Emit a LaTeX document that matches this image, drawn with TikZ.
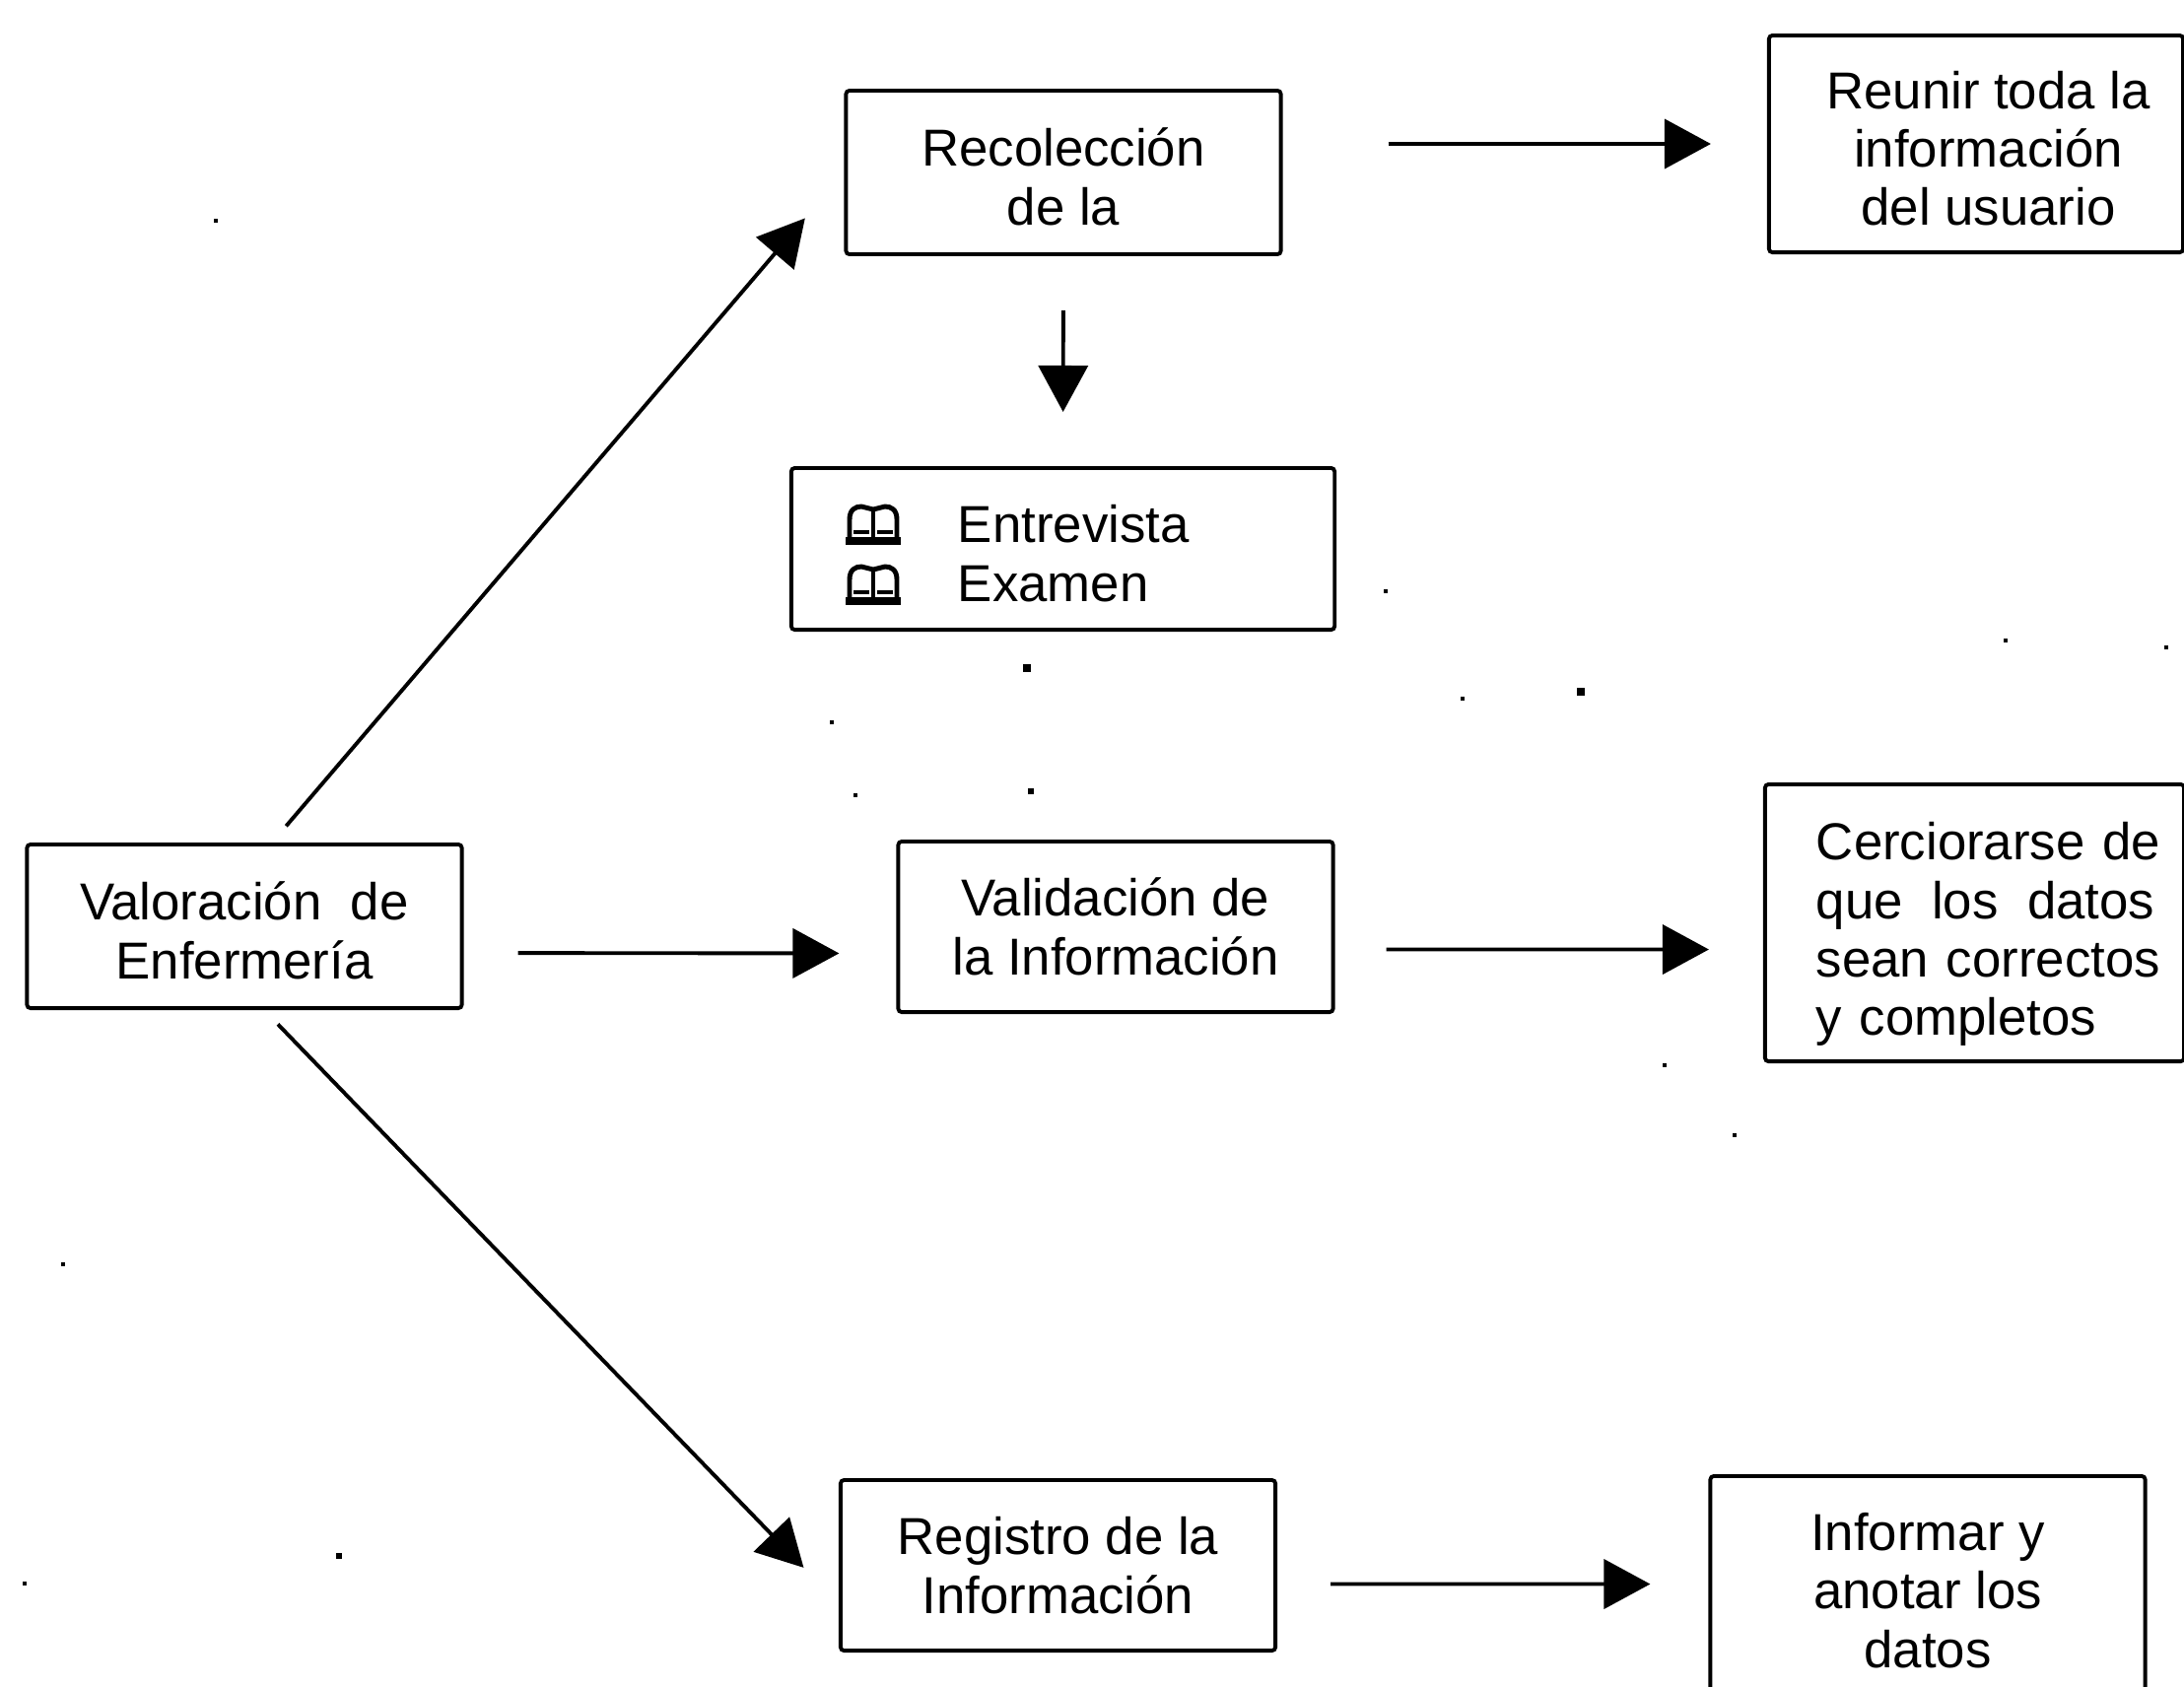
\documentclass[tikz,border=0pt]{standalone}
\usepackage{fontspec}
\setmainfont{Liberation Sans}
\usetikzlibrary{arrows.meta}

\newcommand{\bajada}[1][13.5pt]{\rule{0pt}{#1}}

\tikzset{
    box/.style={draw, line width=1.1pt, rounded corners=1pt, align=center, inner sep=0pt,
        font=\fontsize{15}{16.9}\selectfont},
    mainbox/.style={box, minimum width=4.41cm, minimum height=1.66cm},
    arrow/.style={->, line width=1.1pt}
}

\begin{document}
\begin{tikzpicture}[>={Triangle[length=0.47cm, width=0.5cm]}, x=0.01cm, y=-0.01cm]
            \useasboundingbox (0, 0) rectangle (2216, 1711);

            \newcommand{\bookicon}[2]{
                \draw[line width=1.4pt] (#1+4, #2+34) -- (#1+4, #2+14) .. controls (#1+4, #2+4) and (#1+10, #2+1) .. (#1+16, #2+1) -- (#1+28, #2+4) -- (#1+40, #2+1) .. controls (#1+46, #2+1) and (#1+52, #2+4) .. (#1+52, #2+14) -- (#1+52, #2+34);
                \draw[line width=1.4pt] (#1+28, #2+4) -- (#1+28, #2+34);
                \draw[line width=1.2pt] (#1+8, #2+27) -- (#1+24, #2+27) (#1+32, #2+27) -- (#1+48, #2+27);
                \draw[line width=2.2pt] (#1, #2+36) -- (#1+56, #2+36);
            }

            \node[mainbox] (valoracion) at (248, 940) {\bajada Valoraci\'on\ \ de\\Enfermer\'ia};
            \node[mainbox] (recoleccion) at (1079, 175) {\bajada Recolecci\'on\\de la};
            \node[box, minimum width=4.2cm, minimum height=2.2cm] (reunir) at (2005, 146)
                {\bajada\hspace*{0.25cm}Reunir toda la\\\hspace*{0.25cm}informaci\'on\\\hspace*{0.25cm}del usuario};
            \node[box, minimum width=5.51cm, minimum height=1.64cm, text width=5.51cm, align=left] (tecnicas) at (1078.5, 557)
                {\bajada\hspace*{1.69cm}Entrevista\\\hspace*{1.69cm}Examen};
            \node[mainbox, minimum height=1.73cm] (validacion) at (1132, 940.5) {Validaci\'on de\\la Informaci\'on};
            \node[box, minimum width=4.25cm, minimum height=2.81cm, text width=4.25cm, align=left] (cerciorarse) at (2003.5, 936.5)
                {\bajada[17.5pt]\hspace*{0.52cm}Cerciorarse de\\\hspace*{0.52cm}\makebox[3.43cm][s]{que\hfill los\hfill datos}\\\hspace*{0.52cm}sean correctos\\\hspace*{0.52cm}y completos};
            \node[mainbox, minimum height=1.73cm] (registro) at (1073.5, 1588.5) {Registro de la\\Informaci\'on};
            \node[mainbox, minimum height=2.32cm] (informar) at (1956, 1614) {Informar y\\anotar los\\datos};

            \bookicon{858}{513};
            \bookicon{858}{574};

            \draw[arrow, shorten >=0.61cm, shorten <=0.22cm] ([xshift=0.28cm]valoracion.north) -- (recoleccion.west);
            \draw[arrow, shorten >=0.58cm, shorten <=0.55cm] ([yshift=-0.27cm]valoracion.east) -- ([yshift=-0.27cm]validacion.west);
            \draw[arrow, shorten >=0.51cm, shorten <=0.2cm] ([xshift=0.2cm]valoracion.south) -- ([yshift=-0.39cm]registro.west);
            \draw[arrow, shorten >=0.57cm, shorten <=1.07cm] (recoleccion.east |- reunir.west) -- (reunir.west);
            \draw[arrow, shorten >=0.55cm, shorten <=0.55cm] (recoleccion.south) -- (tecnicas.north);
            \draw[arrow, shorten >=0.55cm, shorten <=0.52cm] ([yshift=-0.23cm]validacion.east) -- ([yshift=-0.27cm]cerciorarse.west);
            \draw[arrow, shorten >=0.59cm, shorten <=0.54cm] ([yshift=-0.19cm]registro.east) -- ([yshift=0.065cm]informar.west);

            % specks from the scan
            \foreach \specx/\specy/\specr in {1042/678/4, 1604/702/4, 1046/803/3, 344/1579/3, 219/224/2, 844/733/2, 1484/709/2, 1406/600/2, 868/807/2, 64/1283/2, 25/1607/2, 2035/650/2, 2198/657/2, 1689/1081/2, 1760/1152/2}
                \fill (\specx-\specr, \specy-\specr) rectangle (\specx+\specr, \specy+\specr);
        \end{tikzpicture}
\end{document}
